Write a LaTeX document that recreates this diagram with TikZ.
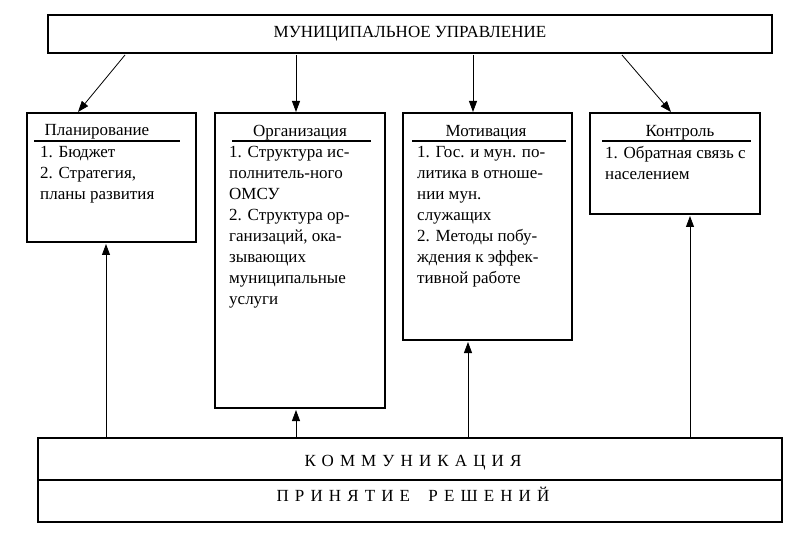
\documentclass[tikz,border=0pt]{standalone}
\usepackage{fontspec}
\setmainfont{Liberation Serif}
\usetikzlibrary{arrows.meta}
\begin{document}
\begin{tikzpicture}[x=1pt,y=-1pt,
  box/.style={draw,line width=1.8pt},
  txt/.style={anchor=north west,align=left,inner sep=0pt,font=\fontsize{17}{21}\selectfont},
  ttl/.style={anchor=base,inner sep=0pt,font=\fontsize{17}{18}\selectfont},
  arr/.style={-{Triangle[length=11pt,width=8pt]},line width=0.8pt},
  ul/.style={line width=1.2pt}]
\useasboundingbox (0,0) rectangle (805,534);
\draw[box] (48,15) rectangle (772,53);
\node[ttl] (top) at (410,38) {МУНИЦИПАЛЬНОЕ УПРАВЛЕНИЕ};
\coordinate (t1) at (125,55); \coordinate (t2) at (296,55);
\coordinate (t3) at (473,55); \coordinate (t4) at (622,55);
% boxes
\draw[box] (27,113) rectangle (196,242);
\draw[box] (215,113) rectangle (385,408);
\draw[box] (403,113) rectangle (572,340);
\draw[box] (590,113) rectangle (760,214);
\coordinate (b1) at (78,112); \coordinate (b2) at (296,112);
\coordinate (b3) at (473,112); \coordinate (b4) at (671,112);
\node[ttl] (h1) at (97,136) {Планирование};
\node[ttl] (h2) at (300,137) {Организация};
\node[ttl] (h3) at (486,137) {Мотивация};
\node[ttl] (h4) at (680,137) {Контроль};
\draw[ul] (34,141) -- (180,141);
\draw[ul] (232,141) -- (371,141);
\draw[ul] (412,141) -- (566,141);
\draw[ul] (602,141) -- (751,141);
\node[txt] (c1) at (40,146) {1. Бюджет\\2. Стратегия,\\планы развития};
\node[txt] (c2) at (229,146) {1. Структура ис-\\полнитель-ного\\ОМСУ\\2. Структура ор-\\ганизаций, ока-\\зывающих\\муниципальные\\услуги};
\node[txt] (c3) at (417,146) {1. Гос. и мун. по-\\литика в отноше-\\нии мун.\\служащих\\2. Методы побу-\\ждения к эффек-\\тивной работе};
\node[txt] (c4) at (605,146) {1. Обратная связь с\\населением};
\draw[arr] (t1) -- (b1);
\draw[arr] (t2) -- (b2);
\draw[arr] (t3) -- (b3);
\draw[arr] (t4) -- (b4);
% bottom
\draw[box] (38,438) rectangle (782,522);
\draw[box] (38,480) -- (782,480);
\node[ttl,font=\fontsize{17}{18}\selectfont\addfontfeatures{LetterSpace=36}] (k) at (413,466) {КОММУНИКАЦИЯ};
\node[ttl,font=\fontsize{17}{18}\selectfont\addfontfeatures{LetterSpace=36}] (p) at (413,501) {ПРИНЯТИЕ\hspace{8pt} РЕШЕНИЙ};
\coordinate (u1) at (106,438); \coordinate (u2) at (296,438);
\coordinate (u3) at (468,438); \coordinate (u4) at (690,438);
\draw[arr] (u1) -- (106,244);
\draw[arr] (u2) -- (296,410);
\draw[arr] (u3) -- (468,342);
\draw[arr] (u4) -- (690,216);
\end{tikzpicture}
\end{document}
